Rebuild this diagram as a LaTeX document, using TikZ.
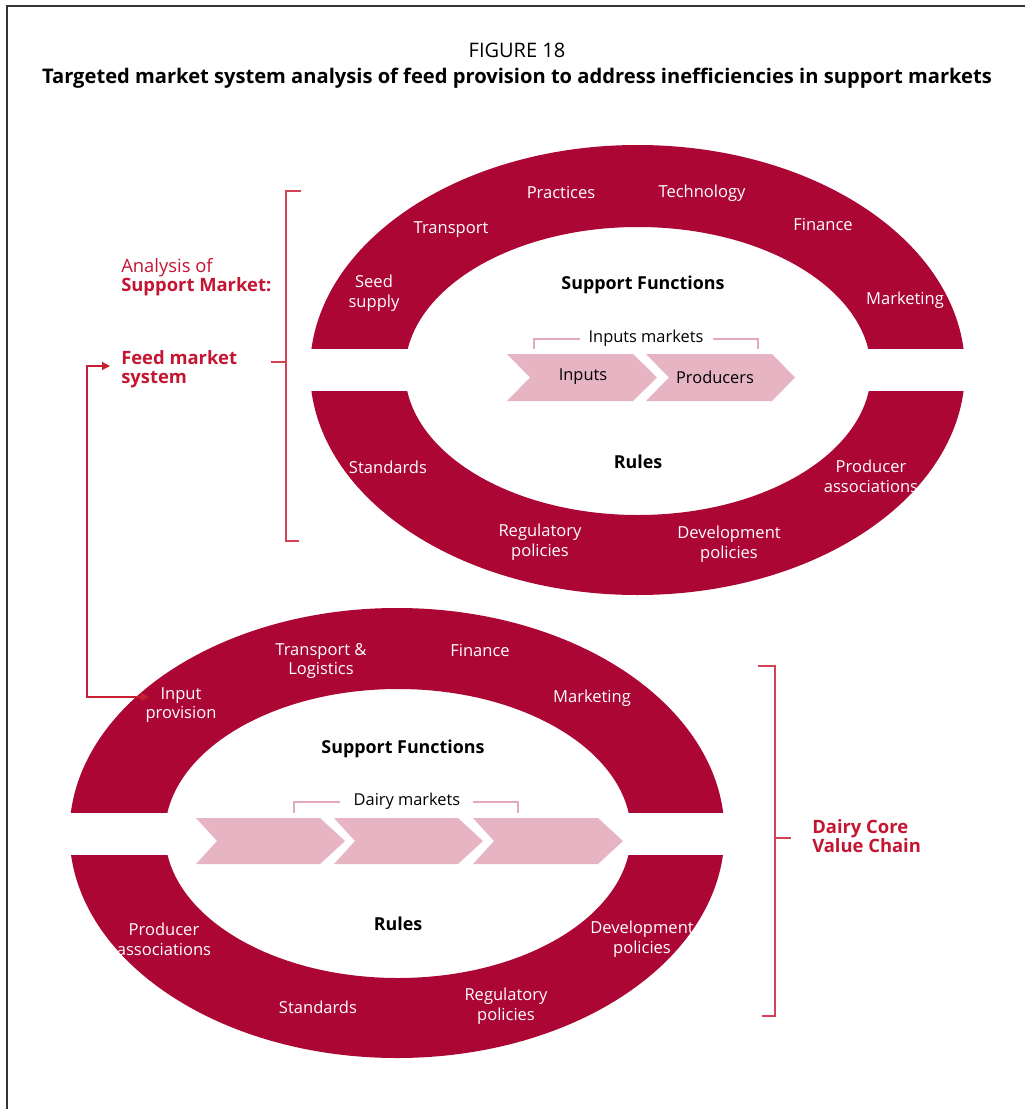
\documentclass[tikz,border=0pt]{standalone}
\usepackage{fontspec}
\setmainfont{Open Sans}
\usetikzlibrary{arrows.meta}
\definecolor{ringc}{RGB}{172,6,52}
\definecolor{chevc}{RGB}{230,180,195}
\definecolor{brkpink}{RGB}{226,170,186}
\definecolor{lblred}{RGB}{196,22,50}
\definecolor{brkred}{RGB}{212,64,84}
\definecolor{arrowred}{RGB}{200,30,50}
\begin{document}
\begin{tikzpicture}[x=0.75pt,y=-0.75pt,
  ringtxt/.style={text=white,align=center,inner sep=0pt,font=\fontsize{12.4}{14.8}\selectfont},
  boldtxt/.style={text=black,align=center,inner sep=0pt,font=\fontsize{13.4}{15}\selectfont\bfseries},
  chevtxt/.style={text=black,align=center,inner sep=0pt,font=\fontsize{12.3}{14.5}\selectfont},
  redlbl/.style={text=lblred,align=left,anchor=west,inner sep=0pt,font=\fontsize{13.8}{14.5}\selectfont},
  redbold/.style={redlbl,font=\fontsize{13.8}{14.5}\selectfont\bfseries},
  bracketline/.style={draw=brkred,line width=1pt},
  pinkbracket/.style={draw=brkpink,line width=1.3pt},
  dblarrow/.style={draw=arrowred,line width=1pt,{Triangle[length=6pt,width=6pt]}-{Triangle[length=6pt,width=6pt]}}]
\useasboundingbox (0,0) rectangle (1025,1109);
\fill[white] (0,0) rectangle (1025,1109);
% frame
\draw[black!80,line width=1.2pt] (7,1109) -- (7,6) -- (1025,6);
% title
\node[inner sep=0pt,font=\fontsize{15}{17}\selectfont] (fig) at (517,50) {FIGURE 18};
\node[inner sep=0pt,font=\fontsize{15.1}{17}\selectfont\bfseries] (title) at (517,78) {Targeted market system analysis of feed provision to address inefficiencies in support markets};

% ---------- top ring ----------
\fill[ringc,even odd rule] (637.5,370) ellipse [x radius=327.5,y radius=225]
  (638,371) ellipse [x radius=233,y radius=144];
\fill[white] (300,349) rectangle (975,391);
% chevrons top
\fill[chevc] (507,354) -- (633,354) -- (657,377.5) -- (633,401) -- (507,401) -- (530,377.5) -- cycle;
\fill[chevc] (646,354) -- (772,354) -- (795,377.5) -- (772,401) -- (646,401) -- (669,377.5) -- cycle;
\node[chevtxt] (inputs) at (583,377) {Inputs};
\node[chevtxt] (producers) at (715,377) {Producers};
\node[chevtxt] (inmk) at (646,338) {Inputs markets};
\draw[pinkbracket] (534,349) -- (534,339) -- (580,339);
\draw[pinkbracket] (713,339) -- (758,339) -- (758,349);
% texts top ring
\node[ringtxt] (t1) at (561,193) {Practices};
\node[ringtxt] (t2) at (702,193) {Technology};
\node[ringtxt] (t3) at (451,230) {Transport};
\node[ringtxt] (t4) at (823,225) {Finance};
\node[ringtxt] (t5) at (374,293.5) {Seed\\supply};
\node[ringtxt] (t6) at (905,300) {Marketing};
\node[ringtxt] (t7) at (388,467) {Standards};
\node[ringtxt] (t8) at (871,476.5) {Producer\\associations};
\node[ringtxt] (t9) at (540,542.5) {Regulatory\\policies};
\node[ringtxt] (t10) at (729,544.5) {Development\\policies};
\node[boldtxt] (sf1) at (643,285) {Support Functions};
\node[boldtxt] (rules1) at (638,462) {Rules};

% ---------- bottom ring ----------
\fill[ringc,even odd rule] (397,833) ellipse [x radius=327.5,y radius=225]
  (398,833.5) ellipse [x radius=233,y radius=144.5];
\fill[white] (60,813) rectangle (735,855);
% chevrons bottom
\fill[chevc] (196,818) -- (320,818) -- (345,841) -- (320,864) -- (196,864) -- (217,841) -- cycle;
\fill[chevc] (334,818) -- (458,818) -- (483,841) -- (458,864) -- (334,864) -- (355,841) -- cycle;
\fill[chevc] (473,818) -- (598,818) -- (623,841) -- (598,864) -- (473,864) -- (494,841) -- cycle;
\node[chevtxt] (dmk) at (407,801) {Dairy markets};
\draw[pinkbracket] (294,813) -- (294,802) -- (340,802);
\draw[pinkbracket] (473,802) -- (518,802) -- (518,813);
% texts bottom ring
\node[ringtxt] (b1) at (321,661) {Transport \&\\Logistics};
\node[ringtxt] (b2) at (480,651) {Finance};
\node[ringtxt] (b3) at (181,705) {Input\\provision};
\node[ringtxt] (b4) at (592,698) {Marketing};
\node[ringtxt] (b5) at (164,939.5) {Producer\\associations};
\node[ringtxt] (b6) at (642,939.5) {Development\\policies};
\node[ringtxt] (b7) at (318,1007) {Standards};
\node[ringtxt] (b8) at (506,1006.5) {Regulatory\\policies};
\node[boldtxt] (sf2) at (403,749) {Support Functions};
\node[boldtxt] (rules2) at (398,924) {Rules};

% ---------- left labels ----------
\node[redlbl] (analysis) at (121,277.5) {Analysis of\\\textbf{Support Market:}};
\node[redbold] (feed) at (121,369) {Feed market\\system};
\draw[bracketline] (301,191) -- (286,191) -- (286,541) -- (299,541);
\draw[bracketline] (271,362) -- (286,362);

% arrow feed <-> input provision
\coordinate (feedtip) at (110,366);
\coordinate (corner) at (87,697);
\coordinate (inputtip) at (149,697);
\draw[dblarrow] (feedtip) -| (corner) -- (inputtip);

% ---------- right labels ----------
\draw[bracketline] (758,666) -- (775,666) -- (775,1016) -- (762,1016);
\draw[bracketline] (775,838) -- (791,838);
\node[redbold] (dairy) at (812,836) {Dairy Core\\Value Chain};
\end{tikzpicture}
\end{document}
